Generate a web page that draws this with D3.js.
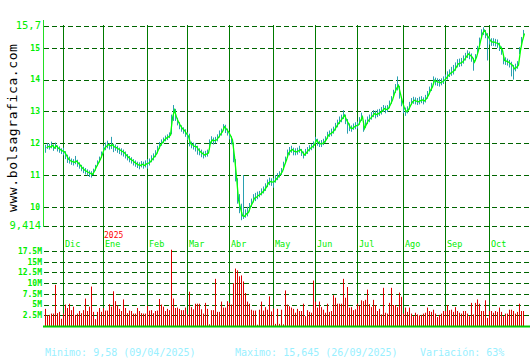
<!DOCTYPE html>
<html>
<head>
<meta charset="utf-8">
<script src="https://cdn.jsdelivr.net/npm/d3@7"></script>
<style>
  body { margin: 0; background: #ffffff; }
  svg { display: block; }
</style>
</head>
<body>
<script>
// daily closes, highs, lows (EUR) from 19/11/2024 to 24/10/2025
var closes = [
  11.86, 11.90, 11.88, 11.93, 11.85, 11.92, 11.84, 11.80, 11.76, 11.73,
  11.62, 11.50, 11.45, 11.42, 11.40, 11.44, 11.37, 11.30, 11.22, 11.16,
  11.12, 11.08, 11.05, 11.02, 11.12, 11.26, 11.38, 11.50, 11.66, 11.84,
  11.90, 11.96, 11.92, 11.95, 11.88, 11.86, 11.82, 11.78, 11.74, 11.70,
  11.62, 11.56, 11.50, 11.46, 11.40, 11.36, 11.32, 11.30, 11.34, 11.30,
  11.35, 11.37, 11.42, 11.50, 11.58, 11.66, 11.80, 11.94, 12.02, 12.10,
  12.16, 12.20, 12.25, 12.80, 13.04, 12.82, 12.67, 12.55, 12.46, 12.40,
  12.30, 12.22, 11.99, 11.95, 11.90, 11.89, 11.80, 11.73, 11.68, 11.63,
  11.66, 11.69, 12.02, 12.10, 12.08, 12.10, 12.18, 12.28, 12.36, 12.52,
  12.44, 12.36, 12.24, 12.10, 11.58, 10.95, 10.22, 9.96, 9.72, 9.70,
  9.78, 9.82, 10.00, 10.12, 10.27, 10.30, 10.36, 10.40, 10.46, 10.53,
  10.62, 10.75, 10.80, 10.78, 10.79, 10.88, 10.95, 11.02, 11.11, 11.30,
  11.47, 11.68, 11.76, 11.80, 11.74, 11.73, 11.76, 11.80, 11.72, 11.63,
  11.70, 11.78, 11.84, 11.89, 11.95, 12.10, 12.02, 11.98, 11.99, 12.04,
  12.12, 12.25, 12.30, 12.34, 12.41, 12.52, 12.62, 12.70, 12.78, 12.88,
  12.74, 12.62, 12.48, 12.46, 12.52, 12.55, 12.57, 12.70, 12.83, 12.46,
  12.60, 12.72, 12.78, 12.85, 12.93, 12.90, 12.93, 12.97, 13.02, 13.09,
  13.06, 13.09, 13.22, 13.36, 13.56, 13.72, 13.82, 13.55, 13.30, 13.09,
  12.99, 13.05, 13.18, 13.30, 13.35, 13.32, 13.30, 13.34, 13.36, 13.33,
  13.40, 13.51, 13.66, 13.77, 13.98, 13.94, 13.92, 13.90, 13.93, 13.98,
  14.05, 14.13, 14.20, 14.24, 14.29, 14.40, 14.50, 14.52, 14.55, 14.63,
  14.72, 14.81, 14.76, 14.70, 14.55, 14.70, 14.92, 15.20, 15.45, 15.55,
  15.42, 15.33, 15.22, 15.18, 15.18, 15.15, 15.13, 15.02, 14.92, 14.60,
  14.58, 14.55, 14.50, 14.45, 14.34, 14.38, 14.45, 14.92, 15.23, 15.45
];
var highs = [
  11.95, 12.00, 11.98, 12.05, 11.96, 12.02, 11.93, 11.90, 11.84, 11.86,
  11.75, 11.64, 11.58, 11.52, 11.50, 11.60, 11.48, 11.40, 11.32, 11.26,
  11.22, 11.18, 11.14, 11.12, 11.20, 11.32, 11.46, 11.58, 11.74, 11.92,
  12.02, 12.08, 12.00, 12.20, 11.98, 11.96, 11.92, 11.86, 11.84, 11.80,
  11.74, 11.66, 11.60, 11.56, 11.50, 11.46, 11.42, 11.40, 11.44, 11.42,
  11.46, 11.50, 11.52, 11.62, 11.68, 11.78, 11.92, 12.04, 12.12, 12.18,
  12.24, 12.28, 12.34, 12.90, 13.20, 13.08, 12.80, 12.66, 12.56, 12.50,
  12.44, 12.34, 12.30, 12.05, 12.02, 12.00, 11.92, 11.84, 11.80, 11.74,
  11.76, 11.80, 12.12, 12.22, 12.18, 12.20, 12.28, 12.40, 12.46, 12.60,
  12.58, 12.46, 12.36, 12.22, 12.02, 11.50, 10.90, 10.40, 10.10, 11.00,
  9.92, 10.00, 10.12, 10.26, 10.40, 10.44, 10.48, 10.50, 10.58, 10.64,
  10.74, 10.86, 10.92, 10.90, 10.90, 11.00, 11.06, 11.12, 11.22, 11.42,
  11.58, 11.80, 11.88, 11.92, 11.86, 11.84, 11.86, 11.92, 11.82, 11.74,
  11.82, 11.88, 11.94, 11.98, 12.06, 12.20, 12.14, 12.08, 12.10, 12.14,
  12.22, 12.36, 12.40, 12.46, 12.52, 12.64, 12.74, 12.84, 12.90, 13.04,
  12.90, 12.76, 12.62, 12.56, 12.62, 12.66, 12.68, 12.82, 12.96, 12.70,
  12.74, 12.84, 12.90, 12.98, 13.04, 13.02, 13.06, 13.08, 13.14, 13.20,
  13.18, 13.20, 13.34, 13.48, 13.68, 13.86, 14.10, 13.80, 13.44, 13.22,
  13.12, 13.16, 13.30, 13.42, 13.46, 13.44, 13.42, 13.46, 13.48, 13.44,
  13.52, 13.64, 13.78, 13.90, 14.10, 14.06, 14.04, 14.02, 14.04, 14.10,
  14.16, 14.26, 14.32, 14.40, 14.46, 14.54, 14.64, 14.66, 14.68, 14.76,
  14.84, 14.92, 14.88, 14.82, 14.68, 14.80, 15.06, 15.32, 15.58, 15.645,
  15.56, 15.46, 15.36, 15.30, 15.30, 15.28, 15.26, 15.16, 15.04, 14.80,
  14.70, 14.66, 14.62, 14.56, 14.46, 14.50, 14.58, 15.02, 15.34, 15.56
];
var lows = [
  11.70, 11.82, 11.80, 11.84, 11.76, 11.82, 11.74, 11.70, 11.66, 11.62,
  11.50, 11.38, 11.36, 11.32, 11.30, 11.34, 11.26, 11.20, 11.12, 11.06,
  11.02, 10.98, 10.94, 10.92, 11.00, 11.14, 11.28, 11.40, 11.54, 11.68,
  11.78, 11.84, 11.80, 11.82, 11.72, 11.76, 11.70, 11.66, 11.62, 11.58,
  11.52, 11.46, 11.40, 11.36, 11.30, 11.26, 11.22, 11.18, 11.24, 11.20,
  11.24, 11.20, 11.30, 11.40, 11.46, 11.56, 11.68, 11.82, 11.92, 12.00,
  12.06, 12.10, 12.16, 12.28, 12.70, 12.70, 12.56, 12.44, 12.36, 12.30,
  12.20, 12.10, 11.90, 11.84, 11.80, 11.74, 11.64, 11.62, 11.56, 11.52,
  11.56, 11.58, 11.80, 11.98, 11.96, 12.00, 12.06, 12.18, 12.24, 12.40,
  12.32, 12.24, 12.12, 11.96, 11.40, 10.80, 10.10, 9.80, 9.58, 9.62,
  9.66, 9.70, 9.86, 10.00, 10.14, 10.18, 10.24, 10.30, 10.36, 10.42,
  10.50, 10.62, 10.68, 10.66, 10.60, 10.76, 10.84, 10.92, 11.00, 11.16,
  11.36, 11.54, 11.62, 11.70, 11.62, 11.62, 11.64, 11.70, 11.60, 11.52,
  11.60, 11.66, 11.74, 11.78, 11.84, 11.98, 11.92, 11.88, 11.88, 11.94,
  12.02, 12.14, 12.20, 12.22, 12.30, 12.40, 12.50, 12.60, 12.66, 12.76,
  12.60, 12.30, 12.38, 12.36, 12.42, 12.44, 12.46, 12.58, 12.70, 12.36,
  12.48, 12.60, 12.66, 12.74, 12.82, 12.78, 12.82, 12.86, 12.90, 12.98,
  12.94, 12.98, 13.10, 13.24, 13.42, 13.58, 13.66, 13.40, 13.16, 12.94,
  12.86, 12.94, 13.06, 13.20, 13.24, 13.22, 13.20, 13.22, 13.26, 13.22,
  13.28, 13.40, 13.54, 13.64, 13.84, 13.82, 13.80, 13.78, 13.82, 13.86,
  13.94, 14.00, 14.08, 14.12, 14.16, 14.28, 14.38, 14.40, 14.42, 14.50,
  14.60, 14.68, 14.64, 14.56, 14.28, 14.58, 14.78, 15.06, 15.30, 15.40,
  15.30, 14.60, 15.10, 15.06, 15.06, 15.04, 15.00, 14.90, 14.78, 14.48,
  14.46, 14.44, 14.38, 14.10, 14.00, 14.26, 14.34, 14.80, 15.10, 15.34
];
// volume in millions of shares
var volumes = [
  4.0, 2.5, 2.6, 2.9, 2.9, 9.6, 3.0, 3.3, 1.7, 2.9,
  5.0, 4.2, 5.2, 3.7, 4.5, 2.6, 2.9, 3.5, 3.0, 3.7,
  6.4, 3.5, 4.5, 9.2, 3.3, 1.6, 3.3, 4.2, 3.3, 4.2,
  3.6, 3.6, 5.1, 4.5, 8.1, 5.8, 4.8, 4.0, 3.5, 6.2,
  4.2, 3.0, 3.6, 3.5, 2.9, 2.9, 4.2, 3.5, 3.0, 2.9,
  2.9, 4.7, 3.6, 3.7, 3.0, 3.5, 3.6, 6.3, 5.0, 4.5,
  3.5, 4.0, 3.7, 17.8, 6.4, 4.2, 4.3, 4.0, 3.7, 3.7,
  4.3, 2.7, 8.0, 4.4, 3.9, 5.2, 5.2, 5.2, 3.9, 2.9,
  5.4, 4.0, 0.4, 3.7, 3.7, 11.0, 3.3, 3.3, 5.7, 4.3,
  4.3, 5.8, 5.4, 5.0, 10.0, 13.4, 13.0, 11.6, 11.8, 10.4,
  7.7, 5.7, 5.2, 3.8, 3.6, 3.6, 0.3, 3.8, 5.7, 3.6,
  4.4, 3.8, 6.9, 3.4, 4.1, 0.5, 4.0, 0.5, 3.8, 0.4,
  8.3, 5.0, 4.6, 4.3, 4.0, 3.1, 4.0, 3.5, 3.5, 5.2,
  2.3, 3.7, 3.3, 3.1, 10.6, 5.7, 4.3, 5.7, 4.4, 3.8,
  3.1, 5.2, 3.3, 3.5, 7.2, 6.6, 5.2, 5.2, 5.2, 11.0,
  6.6, 9.1, 4.3, 4.4, 3.7, 3.9, 5.2, 4.7, 6.0, 5.8,
  6.1, 8.5, 5.1, 4.4, 6.1, 4.9, 3.5, 4.0, 2.7, 8.9,
  3.1, 2.9, 5.4, 8.9, 4.9, 4.9, 4.4, 7.8, 6.8, 2.9,
  4.3, 3.3, 4.3, 2.9, 2.3, 3.1, 2.7, 2.5, 2.6, 2.9,
  3.1, 4.3, 3.5, 3.3, 3.8, 2.9, 2.1, 2.6, 2.9, 3.5,
  3.5, 4.9, 3.7, 3.8, 3.3, 4.4, 3.5, 3.1, 2.9, 3.5,
  3.5, 2.9, 2.3, 5.4, 2.7, 5.4, 6.2, 5.2, 3.5, 3.5,
  6.0, 1.9, 3.5, 3.5, 3.1, 3.5, 3.3, 4.3, 3.3, 2.3,
  2.9, 2.9, 3.8, 3.8, 3.5, 2.9, 3.3, 5.2, 3.5, 3.5
];

// first trading day of each month (index into the series)
var monthIdx = [9, 29, 51, 71, 92, 114, 135, 156, 179, 200, 222];
var monthLbl = ["Dic", "Ene", "Feb", "Mar", "Abr", "May", "Jun", "Jul", "Ago", "Sep", "Oct"];

var priceTicks = [15, 14, 13, 12, 11, 10];
var priceMin = 9.414, priceMax = 15.7;
var volTicks = [2.5, 5, 7.5, 10, 12.5, 15, 17.5];

var footMin = "Minimo: 9,58 (09/04/2025)";
var footMax = "Maximo: 15,645 (26/09/2025)";
var footVar = "Variación: 63%";

var W = 530, H = 360;
var mono = "'DejaVu Sans Mono', 'Liberation Mono', monospace";
var gridColor = "#006400";
var monthColor = "#007a00";
var labelColor = "#00ee00";

var svg = d3.select("body").append("svg")
    .attr("width", W)
    .attr("height", H);

var x = d3.scaleLinear()
    .domain([0, closes.length - 1])
    .range([45, 45 + 2 * (closes.length - 1)]);

var y = d3.scaleLinear()
    .domain([priceMin, priceMax])
    .range([225.5, 25.5]);

var yVol = d3.scaleLinear()
    .domain([0, 17.5])
    .range([326, 251]);

var fmt = function (v) { return String(v).replace(".", ","); };

// horizontal dashed grid, price panel
svg.append("g").selectAll("line")
    .data([priceMax].concat(priceTicks).concat([priceMin]))
    .join("line")
    .attr("x1", 44).attr("x2", W)
    .attr("y1", function (d) { return Math.round(y(d)) + 0.5; })
    .attr("y2", function (d) { return Math.round(y(d)) + 0.5; })
    .attr("stroke", gridColor)
    .attr("stroke-dasharray", "5,3");

// horizontal dashed grid, volume panel
svg.append("g").selectAll("line")
    .data(volTicks)
    .join("line")
    .attr("x1", 44).attr("x2", W)
    .attr("y1", function (d) { return Math.round(yVol(d)) + 0.5; })
    .attr("y2", function (d) { return Math.round(yVol(d)) + 0.5; })
    .attr("stroke", gridColor)
    .attr("stroke-dasharray", "5,3");

// month separators across both panels
svg.append("g").selectAll("line")
    .data(monthIdx)
    .join("line")
    .attr("x1", function (d) { return x(d) + 0.5; })
    .attr("x2", function (d) { return x(d) + 0.5; })
    .attr("y1", 25).attr("y2", 326)
    .attr("stroke", monthColor);

// month labels
svg.append("g").selectAll("text")
    .data(monthIdx)
    .join("text")
    .attr("x", function (d) { return x(d) + 2; })
    .attr("y", 247)
    .attr("fill", labelColor)
    .attr("font-family", mono)
    .attr("font-size", "8.5px")
    .text(function (d, i) { return monthLbl[i]; });

svg.append("text")
    .attr("x", x(monthIdx[1]) + 1)
    .attr("y", 237.5)
    .attr("fill", "#ff0000")
    .attr("font-family", mono)
    .attr("font-size", "8px")
    .text("2025");

// left price axis line
svg.append("line")
    .attr("x1", 43.5).attr("x2", 43.5)
    .attr("y1", 20).attr("y2", 227)
    .attr("stroke", "#22dd22")
    .attr("stroke-width", 1);

// price tick labels
svg.append("g").selectAll("text")
    .data(priceTicks)
    .join("text")
    .attr("x", 40)
    .attr("y", function (d) { return y(d); })
    .attr("dy", "0.35em")
    .attr("text-anchor", "end")
    .attr("fill", labelColor)
    .attr("font-family", mono)
    .attr("font-weight", "bold")
    .attr("font-size", "8px")
    .text(fmt);

svg.append("g").selectAll("text")
    .data([priceMax, priceMin])
    .join("text")
    .attr("x", 41)
    .attr("y", function (d) { return y(d); })
    .attr("dy", "0.35em")
    .attr("text-anchor", "end")
    .attr("fill", labelColor)
    .attr("font-family", mono)
    .attr("font-size", "10.5px")
    .text(fmt);

// volume tick labels
svg.append("g").selectAll("text")
    .data(volTicks)
    .join("text")
    .attr("x", 42)
    .attr("y", function (d) { return yVol(d); })
    .attr("dy", "0.35em")
    .attr("text-anchor", "end")
    .attr("fill", labelColor)
    .attr("font-family", mono)
    .attr("font-weight", "bold")
    .attr("font-size", "8px")
    .text(function (d) { return d + "M"; });

// high-low bars
svg.append("g").selectAll("line")
    .data(closes)
    .join("line")
    .attr("x1", function (d, i) { return x(i) + 0.5; })
    .attr("x2", function (d, i) { return x(i) + 0.5; })
    .attr("y1", function (d, i) { return y(highs[i]); })
    .attr("y2", function (d, i) { return y(lows[i]); })
    .attr("stroke", "#2aa0b0")
    .attr("stroke-width", 1);

// close line, drawn one pixel right of each bar
svg.append("path")
    .datum(closes)
    .attr("fill", "none")
    .attr("stroke", "#00ff00")
    .attr("stroke-width", 1.3)
    .attr("d", d3.line()
        .x(function (d, i) { return x(i) + 1.5; })
        .y(function (d) { return y(d); }));

// volume bars
svg.append("g").selectAll("rect")
    .data(volumes)
    .join("rect")
    .attr("x", function (d, i) { return x(i); })
    .attr("y", function (d) { return yVol(d); })
    .attr("width", 1)
    .attr("height", function (d) { return yVol(0) - yVol(d); })
    .attr("fill", "#dd0000");

// volume baseline
svg.append("line")
    .attr("x1", 43).attr("x2", W)
    .attr("y1", 326.5).attr("y2", 326.5)
    .attr("stroke", "#00cc00")
    .attr("stroke-width", 2);

// site name, vertical
svg.append("text")
    .attr("transform", "translate(17,212) rotate(-90)")
    .attr("fill", "#000000")
    .attr("font-family", mono)
    .attr("font-size", "13px")
    .attr("letter-spacing", "0.6px")
    .text("www.bolsagrafica.com");

// footer
var foot = svg.append("g")
    .attr("fill", "#99f0ff")
    .attr("font-family", mono)
    .attr("font-size", "10px");
foot.append("text").attr("x", 45).attr("y", 356).text(footMin);
foot.append("text").attr("x", 235).attr("y", 356).text(footMax);
foot.append("text").attr("x", 420).attr("y", 356).text(footVar);
</script>
</body>
</html>
